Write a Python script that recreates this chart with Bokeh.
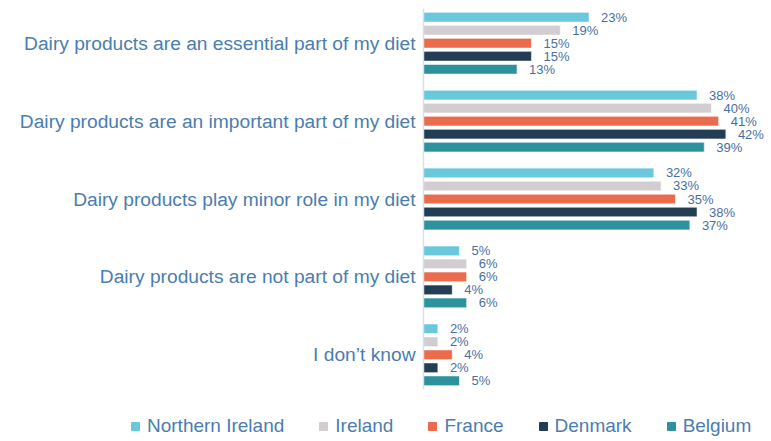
from bokeh.plotting import figure
from bokeh.models import (ColumnDataSource, FactorRange, Range1d, Legend, LegendItem, Span)
from bokeh.layouts import column
from bokeh.transform import dodge
from bokeh.core.properties import value
from bokeh.embed import file_html
from bokeh.resources import INLINE

categories = [
    "Dairy products are an essential part of my diet",
    "Dairy products are an important part of my diet",
    "Dairy products play minor role in my diet",
    "Dairy products are not part of my diet",
    "I don\u2019t know",
]
countries = ["Northern Ireland", "Ireland", "France", "Denmark", "Belgium"]
northern_ireland = [23, 38, 32, 5, 2]
ireland = [19, 40, 33, 6, 2]
france = [15, 41, 35, 6, 4]
denmark = [15, 42, 38, 4, 2]
belgium = [13, 39, 37, 6, 5]

series = [northern_ireland, ireland, france, denmark, belgium]
colors = ["#6ac8dd", "#d2cdd0", "#ea6c4c", "#233d55", "#2b929e"]
offsets = [0.334, 0.167, 0.0, -0.167, -0.334]

data = {"cat": categories, "zero": [0] * len(categories)}
for i, s in enumerate(series):
    data[f"v{i}"] = s
    data[f"t{i}"] = [f"{v}%" for v in s]
source = ColumnDataSource(data)

FONT = "Liberation Sans"
LABEL_COLOR = "#4a7db0"
VALUE_COLOR = "#4a6f9f"

p = figure(
    y_range=FactorRange(factors=list(reversed(categories)),
                        range_padding=-0.054, range_padding_units="absolute"),
    x_range=Range1d(-58.75, 47.92),
    frame_width=768, frame_height=381,
    min_border_left=0, min_border_right=0, min_border_top=8, min_border_bottom=4,
    output_backend="svg", toolbar_location=None,
    x_axis_location=None, y_axis_location=None,
)
p.outline_line_color = None
p.xgrid.visible = False
p.ygrid.visible = False
p.background_fill_color = "white"
p.border_fill_color = "white"

# category axis: baseline at 0 and right-aligned labels
p.add_layout(Span(location=0, dimension="height", line_color="#d3e3ee", line_width=1.5))
p.text(x="zero", y="cat", text="cat", source=source, x_offset=-8,
       text_align="right", text_baseline="middle", text_font=value(FONT),
       text_font_size="19.2px", text_color=LABEL_COLOR)

for i, name in enumerate(countries):
    ycol = dodge("cat", offsets[i], range=p.y_range)
    p.hbar(y=ycol, left=0, right=f"v{i}", height=0.125, source=source,
           fill_color=colors[i], line_color="white", line_alpha=0.6, line_width=1)
    p.text(x=f"v{i}", y=ycol, text=f"t{i}", source=source, x_offset=12,
           text_baseline="middle", text_align="left", text_font=value(FONT),
           text_font_size="13px", text_color=VALUE_COLOR)

# legend strip below the chart
lf = figure(width=768, height=48, x_range=Range1d(0, 1), y_range=Range1d(0, 1),
            min_border=0, output_backend="svg", toolbar_location=None,
            x_axis_location=None, y_axis_location=None)
lf.outline_line_color = None
lf.xgrid.visible = False
lf.ygrid.visible = False
lf.background_fill_color = "white"
lf.border_fill_color = "white"

items = []
for i, name in enumerate(countries):
    # key glyph: its single point lies outside the strip's 0..1 ranges, so only the legend shows it
    key = lf.scatter(x=[series[i][0]], y=[series[i][0]], marker="square",
                     fill_color=colors[i], line_color=colors[i], size=8)
    items.append(LegendItem(label=name, renderers=[key]))

legend = Legend(items=items, orientation="horizontal", location=(125, 4),
                glyph_width=20, glyph_height=20, label_height=20,
                label_standoff=2, spacing=29, padding=0, margin=0,
                border_line_color=None, background_fill_alpha=0,
                label_text_font=FONT, label_text_font_size="19px",
                label_text_color=LABEL_COLOR)
lf.add_layout(legend, "center")

layout = column(p, lf, spacing=0)
open("out.html", "w").write(file_html(layout, INLINE))
